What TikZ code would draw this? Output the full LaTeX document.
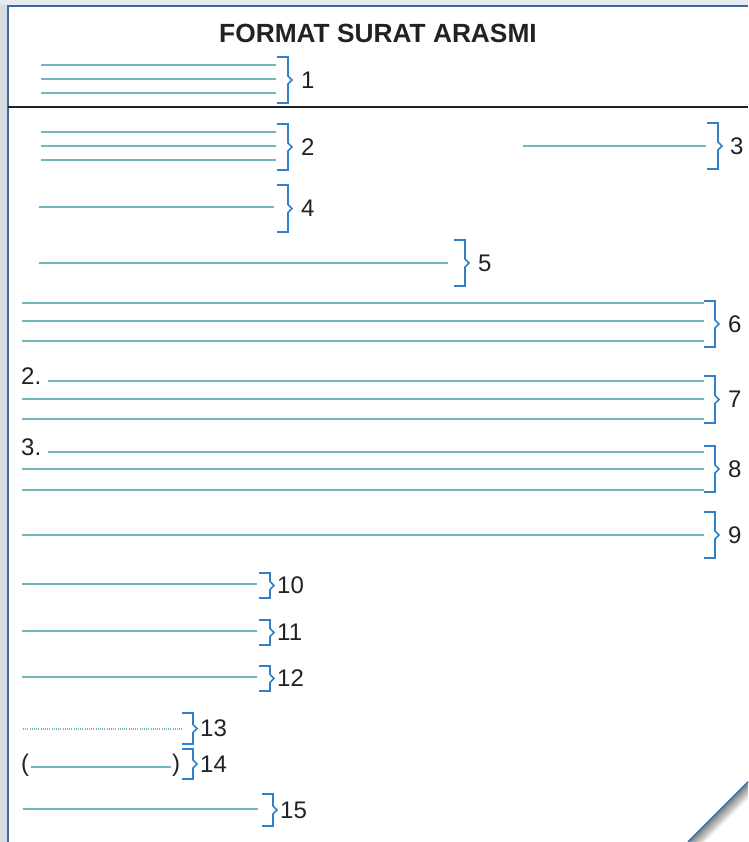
\documentclass[tikz,border=0pt]{standalone}
\usepackage{fontspec}
\setmainfont{Liberation Sans}
\definecolor{garis}{RGB}{114,183,189}
\definecolor{kurungbiru}{RGB}{47,127,201}
\definecolor{tepi}{RGB}{58,108,160}
\definecolor{latar}{RGB}{214,222,228}
\definecolor{teks}{RGB}{34,34,34}
\tikzset{
  baris/.style={garis, line width=2.3pt},
  kurung/.style={kurungbiru, line width=1.6pt},
  nomor/.style={teks, inner sep=0pt, font=\fontsize{24}{28}\selectfont},
}
% kurung penanda: x, atas, bawah, panjang kait, jarak nomor, nomor
\newcommand{\penanda}[6]{%
  \draw[kurung] ({#1-#4},#2) -- (#1,#2) -- (#1,{(#2+#3)/2-4}) -- ({#1+4},{(#2+#3)/2})
    -- (#1,{(#2+#3)/2+4}) -- (#1,#3) -- ({#1-#4},#3);
  \node[nomor, anchor=west] (n#6) at ({#1+#5},{(#2+#3)/2}) {#6};
}
\begin{document}
\begin{tikzpicture}[x=1pt, y=-1pt]
    \useasboundingbox (0,0) rectangle (748,842);
    % Latar dan kertas
    \fill[latar] (0,0) rectangle (748,842);
    \fill[latar!60!white] (0,0) rectangle (748,5);
    \fill[white] (8,6) -- (748,6) -- (748,782) -- (688,842) -- (8,842) -- cycle;
    \fill[white] (748,782) -- (748,842) -- (688,842) -- cycle;
    \begin{scope}
        \clip (748,782) -- (748,842) -- (688,842) -- cycle;
        \foreach \d [evaluate=\d as \o using 0.3*(1-\d/18)] in {1,...,17}
            \draw[black, opacity=\o, line width=1.2pt] ({688+\d},842) -- (748,{782+\d});
    \end{scope}
    \draw[tepi, line width=2pt] (8,842) -- (8,6) -- (748,6);
    \draw[tepi, line width=1.5pt] (688,842) -- (748,782);

    % Judul
    \node[teks, font=\fontsize{26.3}{30}\selectfont\bfseries] (judul) at (378,33) {FORMAT SURAT ARASMI};

    % 1
    \foreach \y in {65,79,93} \draw[baris] (41,\y) -- (276,\y);
    \penanda{288}{57}{103}{11}{13}{1}
    \draw[teks, line width=1.2pt] (8,107) -- (748,107);

    % 2 dan 3
    \foreach \y in {132,146,160} \draw[baris] (41,\y) -- (276,\y);
    \penanda{288}{124}{170}{11}{13}{2}
    \draw[baris] (523,146) -- (706,146);
    \penanda{718}{123}{169}{11}{12}{3}

    % 4 dan 5
    \draw[baris] (39,207) -- (274,207);
    \penanda{288}{185}{232}{11}{13}{4}
    \draw[baris] (39,263) -- (448,263);
    \penanda{465}{240}{286}{11}{13}{5}

    % 6, 7, 8
    \foreach \y in {303,321,341} \draw[baris] (22,\y) -- (704,\y);
    \penanda{715}{301}{347}{11}{13}{6}
    \node[nomor, anchor=base west] (poin2) at (21,384) {2.};
    \draw[baris] (48,381) -- (704,381);
    \foreach \y in {399,419} \draw[baris] (22,\y) -- (704,\y);
    \penanda{715}{376}{423}{11}{13}{7}
    \node[nomor, anchor=base west] (poin3) at (21,455) {3.};
    \draw[baris] (48,452) -- (704,452);
    \foreach \y in {469,490} \draw[baris] (22,\y) -- (704,\y);
    \penanda{715}{446}{492}{11}{13}{8}

    % 9
    \draw[baris] (22,535) -- (704,535);
    \penanda{715}{512}{558}{11}{13}{9}

    % 10 - 12
    \foreach \y/\a/\b/\n in {584/573/598/10, 631/620/645/11, 677/666/691/12} {
        \draw[baris] (22,\y) -- (257,\y);
        \penanda{270}{\a}{\b}{11}{7}{\n}
    }

    % 13 - 15
    \draw[garis, line width=1.2pt, dash pattern=on 1pt off 1.2pt] (23,729) -- (182,729);
    \penanda{193}{713}{744}{11}{7}{13}
    \node[nomor, anchor=base west] (buka) at (21,771) {(};
    \draw[baris] (31,767) -- (171,767);
    \node[nomor, anchor=base west] (tutup) at (172,771) {)};
    \penanda{193}{749}{779}{11}{7}{14}
    \draw[baris] (23,809) -- (258,809);
    \penanda{273}{794}{826}{11}{7}{15}
\end{tikzpicture}
\end{document}
